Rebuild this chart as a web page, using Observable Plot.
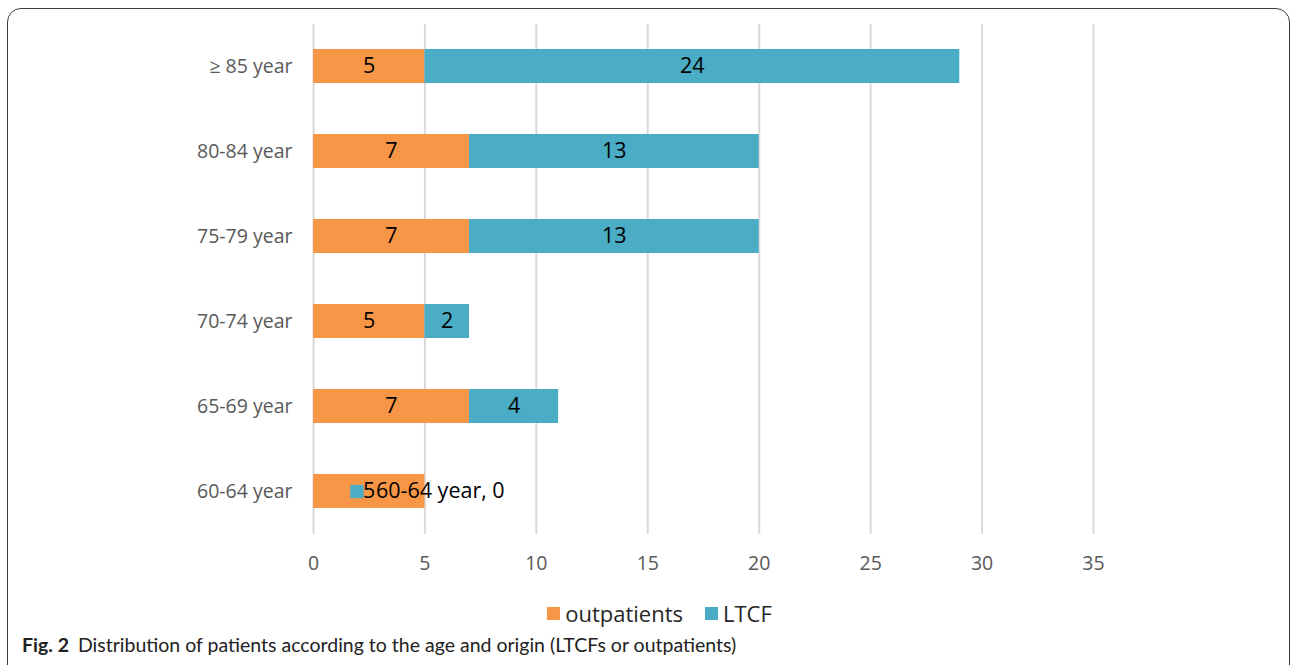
<!DOCTYPE html>
<html><head><meta charset="utf-8">
<script src="https://cdn.jsdelivr.net/npm/d3@7"></script>
<script src="https://cdn.jsdelivr.net/npm/@observablehq/plot@0.6"></script>
<style>
body{margin:0;background:#fff;width:1292px;height:665px;overflow:hidden;position:relative;font-family:"Open Sans",sans-serif;}
#frame{position:absolute;left:7px;top:8px;width:1281px;height:720px;border:1.5px solid #3c3c3c;border-radius:14px;}
#chart{position:absolute;left:0;top:0;}
#legend{position:absolute;top:598px;left:0;width:1292px;display:flex;justify-content:center;gap:22px;font-size:22px;color:#262626;padding-left:27px;box-sizing:border-box;}
#legend span.item{display:flex;align-items:center;}
#legend span.sw{display:inline-block;width:13px;height:13px;margin-right:5px;}
#caption{position:absolute;left:22px;top:633px;font-family:"Lato",sans-serif;font-size:19.5px;color:#222;}
#caption b{margin-right:9px;}
</style></head>
<body>
<div id="frame"></div>
<div id="chart"></div>
<div id="legend"></div>
<div id="caption"><b>Fig. 2</b>Distribution of patients according to the age and origin (LTCFs or outpatients)</div>
<script>
const categories = ["≥ 85 year", "80-84 year", "75-79 year", "70-74 year", "65-69 year", "60-64 year"];
const outpatients = [5, 7, 7, 5, 7, 5];
const ltcf = [24, 13, 13, 2, 4, 0];
const seriesNames = ["outpatients", "LTCF"];
const seriesColors = ["#F79646", "#4BACC6"];
const xTicks = [0, 5, 10, 15, 20, 25, 30, 35];

const rows = [];
categories.forEach((c, i) => {
  rows.push({cat: c, series: seriesNames[0], value: outpatients[i], start: 0, end: outpatients[i]});
  rows.push({cat: c, series: seriesNames[1], value: ltcf[i], start: outpatients[i], end: outpatients[i] + ltcf[i]});
});
const nonzero = rows.filter(d => d.value > 0);
const zero = rows.filter(d => d.value === 0);

const chart = Plot.plot({
  width: 1292,
  height: 590,
  marginLeft: 313,
  marginRight: 199,
  marginTop: 24,
  marginBottom: 56,
  style: {fontFamily: "Open Sans, sans-serif", fontSize: "19.5px", color: "#595959", background: "transparent"},
  x: {domain: [0, 35], ticks: xTicks, tickSize: 0, tickPadding: 22, label: null},
  y: {domain: categories, paddingInner: 0.6, paddingOuter: 0.3, tickSize: 0, tickPadding: 21, label: null},
  color: {domain: seriesNames, range: seriesColors},
  marks: [
    Plot.gridX(xTicks, {stroke: "#d9d9d9", strokeOpacity: 1, strokeWidth: 2}),
    Plot.barX(rows, {y: "cat", x1: "start", x2: "end", fill: "series"}),
    Plot.text(nonzero, {y: "cat", x: d => (d.start + d.end) / 2, text: d => String(d.value), fill: "#000", fontSize: 21.5}),
    Plot.dot(zero, {y: "cat", x: "start", dx: -68, symbol: "square", r: 7.5, fill: d => d.series}),
    Plot.text(zero, {y: "cat", x: "start", dx: -49, textAnchor: "start", text: d => `${d.cat}, ${d.value}`, fill: "#000", fontSize: 21.5})
  ]
});
document.getElementById("chart").appendChild(chart);

const lg = document.getElementById("legend");
seriesNames.forEach((n, i) => {
  const it = document.createElement("span"); it.className = "item";
  const sw = document.createElement("span"); sw.className = "sw"; sw.style.background = seriesColors[i];
  it.appendChild(sw); it.appendChild(document.createTextNode(n));
  lg.appendChild(it);
});
</script>
</body></html>
